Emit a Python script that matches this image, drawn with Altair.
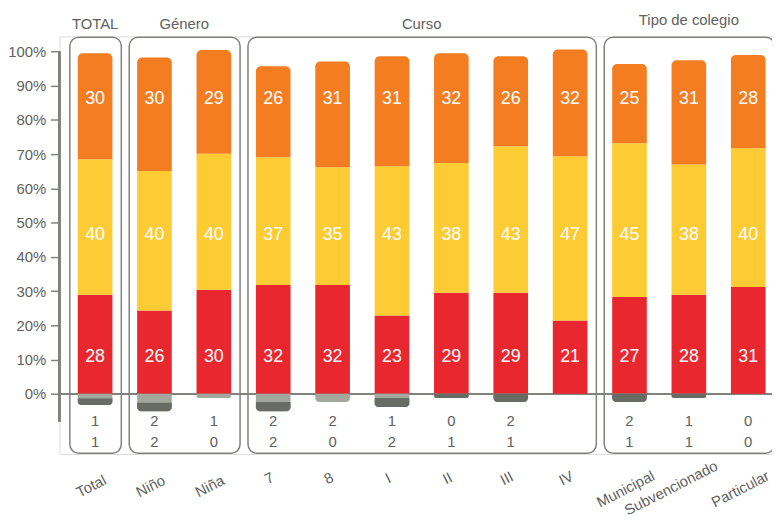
import altair as alt
import pandas as pd

categories = ["Total", "Niño", "Niña", "7", "8", "I", "II", "III", "IV",
              "Municipal", "Subvencionado", "Particular"]
groups = ["TOTAL", "Género", "Género", "Curso", "Curso", "Curso", "Curso",
          "Curso", "Curso", "Tipo de colegio", "Tipo de colegio", "Tipo de colegio"]
# printed segment labels
red_lbl = [28, 26, 30, 32, 32, 23, 29, 29, 21, 27, 28, 31]
yellow_lbl = [40, 40, 40, 37, 35, 43, 38, 43, 47, 45, 38, 40]
orange_lbl = [30, 30, 29, 26, 31, 31, 32, 26, 32, 25, 31, 28]
# segment heights as drawn (percent)
red_h = [28.9, 24.3, 30.4, 31.8, 31.8, 22.9, 29.5, 29.5, 21.4, 28.3, 28.9, 31.2]
yellow_h = [39.6, 40.8, 39.7, 37.3, 34.4, 43.6, 37.9, 42.8, 48.0, 44.9, 38.1, 40.5]
orange_h = [31.0, 33.1, 30.3, 26.6, 30.9, 32.1, 32.1, 26.3, 31.2, 23.1, 30.4, 27.3]
# negative segments as drawn (percent below 0)
neg_light = [1.4, 2.6, 1.2, 2.4, 2.4, 1.2, 0, 0, 0, 0, 0, 0]
neg_dark = [1.9, 2.5, 0, 2.7, 0, 2.7, 1.2, 2.4, 0, 2.4, 1.2, 0]
# printed numbers below the bars
row1 = [1, 2, 1, 2, 2, 1, 0, 2, None, 2, 1, 0]
row2 = [1, 2, 0, 2, 0, 2, 1, 1, None, 1, 1, 0]

C_ORANGE = "#F47D22"
C_YELLOW = "#FDCB33"
C_RED = "#E9272E"
C_LIGHT = "#A3A89F"
C_DARK = "#676C65"
C_LINE = "#7E837B"
C_TEXT = "#5E615C"
FONT = "Liberation Sans"

W, H = 720, 422

df = pd.DataFrame({"cat": categories, "group": groups,
                   "red": red_lbl, "yellow": yellow_lbl, "orange": orange_lbl,
                   "rh": red_h, "yh": yellow_h, "oh": orange_h,
                   "nl": neg_light, "nd": neg_dark})
df["ry"] = df["rh"] + df["yh"]
df["top"] = df["ry"] + df["oh"]
df["nl_end"] = -df["nl"]
df["n_end"] = -(df["nl"] + df["nd"])
df["zero"] = 0

lab = pd.DataFrame({"cat": categories, "r1": row1, "r2": row2})
lab1 = lab.dropna(subset=["r1"]).copy()
lab1["t"] = lab1["r1"].astype(int).astype(str)
lab2 = lab.dropna(subset=["r2"]).copy()
lab2["t"] = lab2["r2"].astype(int).astype(str)

label_pad = {
    "condition": [
        {"test": "length(datum.value) <= 3", "value": 24},
        {"test": "datum.value == 'Subvencionado'", "value": 34},
        {"test": "length(datum.value) >= 9", "value": 35},
    ],
    "value": 32,
}
label_off = {
    "condition": [
        {"test": "datum.value == 'Subvencionado'", "value": -18},
        {"test": "datum.value == 'Particular'", "value": -8},
    ],
    "value": -4,
}

xscale = alt.Scale(domain=categories, paddingInner=25 / 60, paddingOuter=0.2083, align=0.74)
xaxis = alt.Axis(title=None, domain=False, ticks=False, labelAngle=-27,
                 labelAlign="center", labelBaseline="middle", labelPadding=label_pad,
                 labelOffset=label_off, labelFont=FONT, labelFontSize=15, labelColor=C_TEXT)
X = alt.X("cat:N", scale=xscale, axis=xaxis, sort=categories)
yscale = alt.Scale(domain=[-17.6, 104.4], nice=False, zero=False)
yaxis = alt.Axis(title=None, values=list(range(0, 101, 10)), labelExpr="datum.value + '%'",
                 domain=False, grid=False, tickSize=9, tickColor=C_LINE, tickWidth=1.5,
                 labelPadding=5, labelFont=FONT, labelFontSize=15, labelColor=C_TEXT)

base = alt.Chart(df)

# group boxes
order = []
for g in groups:
    if g not in order:
        order.append(g)
box_rows = []
for g in order:
    cats = [c for c, gg in zip(categories, groups) if gg == g]
    box_rows.append({"g": g, "first": cats[0], "last": cats[-1], "n": len(cats)})
boxes = pd.DataFrame(box_rows)

box_layer = alt.Chart(boxes).mark_rect(
    fill="white", fillOpacity=0, stroke=C_LINE, strokeWidth=1.5, cornerRadius=9,
    xOffset=-8, x2Offset=9
).encode(
    x=alt.X("first:N", scale=xscale, axis=xaxis, sort=categories, bandPosition=0),
    x2=alt.X2("last:N", bandPosition=1),
    y=alt.value(0.75), y2=alt.value(H - 0.75)
)

title_layers = []
for r in box_rows:
    cats = [c for c, gg in zip(categories, groups) if gg == r["g"]]
    n = len(cats)
    anchor = cats[(n - 1) // 2]
    dx = 0 if n % 2 == 1 else 30
    ty = -12 if r["g"] == "Tipo de colegio" else -7
    t = alt.Chart(pd.DataFrame({"cat": [anchor], "t": [r["g"]]})).mark_text(
        font=FONT, fontSize=15, color=C_TEXT, dx=dx, baseline="alphabetic"
    ).encode(x=X, y=alt.value(ty), text="t:N")
    title_layers.append(t)

zero_rule = base.mark_rule(color=C_LINE, strokeWidth=1.5).encode(
    y=alt.datum(0, scale=yscale, axis=yaxis))
axis_rule = base.mark_rule(color=C_LINE, strokeWidth=1.5).encode(
    x=alt.value(0), y=alt.datum(100), y2=alt.datum(-8.1))

red_bar = base.mark_bar(color=C_RED).encode(
    x=X, y=alt.Y("zero:Q", scale=yscale, axis=yaxis), y2="rh:Q")
yel_bar = base.mark_bar(color=C_YELLOW).encode(x=X, y="rh:Q", y2="ry:Q")
ora_bar = base.mark_bar(color=C_ORANGE, cornerRadiusTopLeft=5, cornerRadiusTopRight=5).encode(
    x=X, y="ry:Q", y2="top:Q")
light_bar = base.mark_bar(color=C_LIGHT, cornerRadiusBottomLeft=4, cornerRadiusBottomRight=4).encode(
    x=X, y="zero:Q", y2="n_end:Q")
dark_bar = base.mark_bar(color=C_DARK, cornerRadiusBottomLeft=4, cornerRadiusBottomRight=4).encode(
    x=X, y="nl_end:Q", y2="n_end:Q")


def seg_label(field, level):
    return base.mark_text(font=FONT, fontSize=18, color="white", baseline="middle").encode(
        x=X, y=alt.datum(level), text=alt.Text(f"{field}:Q"))


red_txt = seg_label("red", 10.7)
yel_txt = seg_label("yellow", 46.3)
ora_txt = seg_label("orange", 86.0)

r1_txt = alt.Chart(lab1).mark_text(font=FONT, fontSize=15, color=C_TEXT, baseline="middle").encode(
    x=X, y=alt.datum(-7.9), text="t:N")
r2_txt = alt.Chart(lab2).mark_text(font=FONT, fontSize=15, color=C_TEXT, baseline="middle").encode(
    x=X, y=alt.datum(-14.2), text="t:N")

chart = alt.layer(
    box_layer, zero_rule, axis_rule, red_bar, yel_bar, ora_bar, light_bar, dark_bar,
    red_txt, yel_txt, ora_txt, r1_txt, r2_txt, *title_layers
).properties(
    width=W, height=H,
    autosize=alt.AutoSizeParams(type="none"),
    padding={"left": 52, "top": 26, "right": 0, "bottom": 66}
).configure_view(stroke=None).configure(background="white")

chart.save("out.html", embed_options={"renderer": "svg", "actions": False})
